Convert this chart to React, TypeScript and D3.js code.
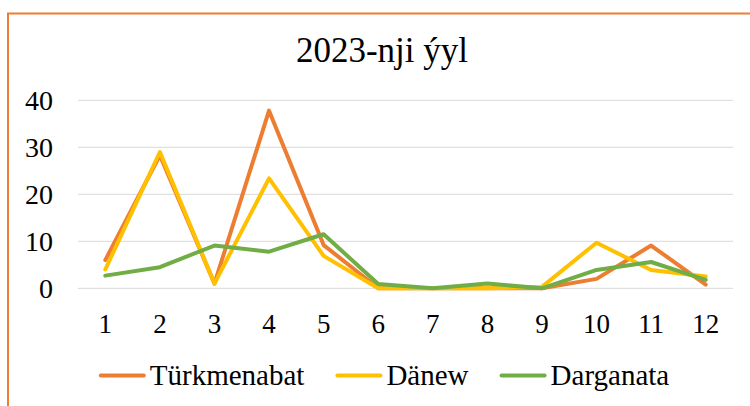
import React, { useEffect, useRef } from "react";
import * as d3 from "d3";

// Months on the x axis
const months = ["1", "2", "3", "4", "5", "6", "7", "8", "9", "10", "11", "12"];

// Series values
const turkmenabat = [6, 28.3, 1, 37.8, 9.2, 0, 0, 0, 0, 2, 9.1, 0.8];
const danew = [4, 29, 1, 23.4, 6.9, 0, 0, 0, 0.3, 9.7, 3.9, 2.5];
const darganata = [2.7, 4.5, 9.1, 7.8, 11.5, 0.9, 0, 1, 0, 3.9, 5.6, 1.8];

const seriesNames = ["Türkmenabat", "Dänew", "Darganata"];
const seriesColors = ["#ED7D31", "#FFC000", "#70AD47"];
const yTicks = [0, 10, 20, 30, 40];

const App = () => {
  const svgRef = useRef<SVGSVGElement | null>(null);

  useEffect(() => {
    const svg = d3.select(svgRef.current);
    svg.selectAll("*").remove();

    const font = "Liberation Serif, Times New Roman, DejaVu Serif, serif";
    const plot = { left: 78, right: 733, top: 100.3, bottom: 288.3 };

    // Outer frame (chart box is cropped on right and bottom)
    svg
      .append("rect")
      .attr("x", 8)
      .attr("y", 13.5)
      .attr("width", 760)
      .attr("height", 420)
      .attr("fill", "white")
      .attr("stroke", "#ED7D31")
      .attr("stroke-width", 2);

    // Title
    svg
      .append("text")
      .attr("x", 382)
      .attr("y", 62)
      .attr("text-anchor", "middle")
      .attr("font-family", font)
      .attr("font-size", 35)
      .attr("fill", "#000")
      .text("2023-nji ýyl");

    const x = d3
      .scaleBand()
      .domain(months)
      .range([plot.left, plot.right]);
    const y = d3
      .scaleLinear()
      .domain([0, 40])
      .range([plot.bottom, plot.top]);

    // Gridlines
    svg
      .append("g")
      .selectAll("line")
      .data(yTicks)
      .enter()
      .append("line")
      .attr("x1", plot.left)
      .attr("x2", plot.right)
      .attr("y1", (d) => y(d))
      .attr("y2", (d) => y(d))
      .attr("stroke", "#D9D9D9")
      .attr("stroke-width", 1);

    // Y tick labels
    svg
      .append("g")
      .selectAll("text")
      .data(yTicks)
      .enter()
      .append("text")
      .attr("x", 53)
      .attr("y", (d) => y(d) + 10)
      .attr("text-anchor", "end")
      .attr("font-family", font)
      .attr("font-size", 28)
      .text((d) => d);

    // X tick labels
    svg
      .append("g")
      .selectAll("text")
      .data(months)
      .enter()
      .append("text")
      .attr("x", (d) => (x(d) as number) + x.bandwidth() / 2)
      .attr("y", 333)
      .attr("text-anchor", "middle")
      .attr("font-family", font)
      .attr("font-size", 27)
      .text((d) => d);

    // Lines
    const allSeries = [turkmenabat, danew, darganata];
    const line = d3
      .line<number>()
      .x((_, i) => (x(months[i]) as number) + x.bandwidth() / 2)
      .y((d) => y(d));

    allSeries.forEach((values, i) => {
      svg
        .append("path")
        .datum(values)
        .attr("d", line)
        .attr("fill", "none")
        .attr("stroke", seriesColors[i])
        .attr("stroke-width", 4)
        .attr("stroke-linejoin", "round")
        .attr("stroke-linecap", "round");
    });

    // Legend, centred under the plot
    const legend = svg.append("g");
    const lineLen = 43;
    const gap = 6;
    const itemGap = 33;
    let cursor = 0;
    seriesNames.forEach((name, i) => {
      const item = legend.append("g").attr("transform", `translate(${cursor},0)`);
      item
        .append("line")
        .attr("x1", 0)
        .attr("x2", lineLen)
        .attr("y1", 375.5)
        .attr("y2", 375.5)
        .attr("stroke", seriesColors[i])
        .attr("stroke-width", 4)
        .attr("stroke-linecap", "round");
      const t = item
        .append("text")
        .attr("x", lineLen + gap)
        .attr("y", 385)
        .attr("font-family", font)
        .attr("font-size", 29)
        .text(name);
      const w = (t.node() as SVGTextElement).getComputedTextLength();
      cursor += lineLen + gap + w + itemGap;
    });
    const total = cursor - itemGap;
    legend.attr("transform", `translate(${385 - total / 2},0)`);

    return () => {
      svg.selectAll("*").remove();
    };
  }, []);

  return (
    <svg
      ref={svgRef}
      width={750}
      height={406}
      style={{ position: "absolute", left: 0, top: 0, background: "white" }}
    ></svg>
  );
};

export default App;
